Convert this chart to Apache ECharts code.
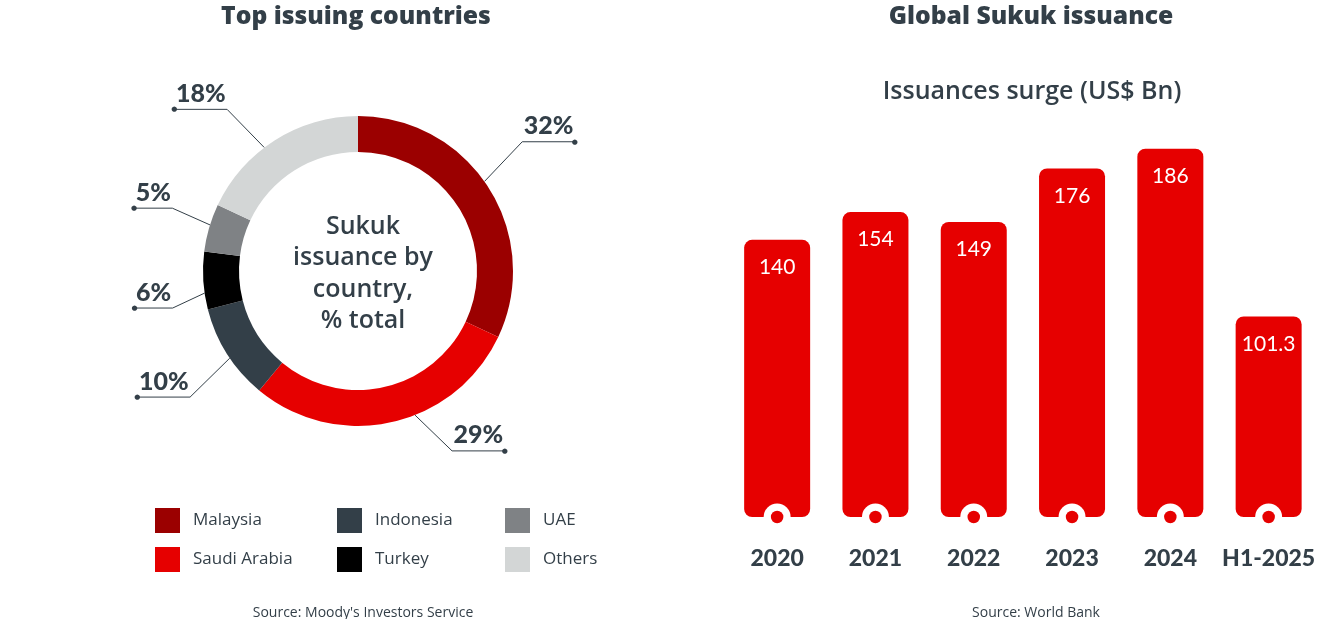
<!DOCTYPE html>
<html>
<head>
<meta charset="utf-8">
<script src="https://cdn.jsdelivr.net/npm/echarts@6/dist/echarts.min.js"></script>
<style>
html,body{margin:0;padding:0;background:#fff;}
#c{width:1318px;height:619px;}
</style>
</head>
<body>
<div id="c"></div>
<script>
// ---- data ----
const countries = ['Malaysia', 'Saudi Arabia', 'Indonesia', 'Turkey', 'UAE', 'Others'];
const shares = [32, 29, 10, 6, 5, 18];
const years = ['2020', '2021', '2022', '2023', '2024', 'H1-2025'];
const issuance = [140, 154, 149, 176, 186, 101.3];

// ---- style ----
const countryColors = ['#9b0000', '#e60000', '#333f48', '#000000', '#7f8285', '#d3d6d6'];
const dark = '#333f48';
const red = '#e60000';
const fontMain = 'Lato, "Open Sans", sans-serif';
const fontBody = '"Open Sans", sans-serif';
const pieCenter = [358, 271];
const pieRadius = [119, 155];
// leader-line layout: start angle on ring (deg clockwise from top), bend [angle, radius]
const leaderStart = [54.7, 158.4, 235.8, 261.8, 287.3, 322.8];
const leaderBend = [[51.8, 209], [152.4, 203], [233.1, 210], [258.7, 189], [288.7, 196], [321, 208]];
const pctFont = '900 25px Lato';

const measureCtx = document.createElement('canvas').getContext('2d');
function textWidth(t) { measureCtx.font = pctFont; return measureCtx.measureText(t).width; }
function polar(angDeg, r) {
  const a = angDeg * Math.PI / 180;
  return [pieCenter[0] + r * Math.sin(a), pieCenter[1] - r * Math.cos(a)];
}
function leader(i) {
  const p0 = polar(leaderStart[i], pieRadius[1]);
  const b = polar(leaderBend[i][0], leaderBend[i][1]);
  const right = b[0] > pieCenter[0];
  const w = textWidth(shares[i] + '%') + 3;
  const end = [b[0] + (right ? w : -w), b[1]];
  return [p0, b, end];
}

const chart = echarts.init(document.getElementById('c'), null, {renderer: 'canvas'});

const legendText = {color: dark, fontSize: 17, fontFamily: fontBody, padding: [0, 0, 0, 8]};
function legendCol(items, left) {
  return {
    orient: 'vertical', left: left, top: 508, padding: 0, itemWidth: 25, itemHeight: 25, itemGap: 14,
    icon: 'rect', data: items, textStyle: legendText, selectedMode: false
  };
}

const pieData = countries.map((n, i) => ({name: n, value: shares[i], itemStyle: {color: countryColors[i]}}));

const option = {
  animation: false,
  backgroundColor: '#fff',
  title: [
    {text: 'Top issuing countries', left: 351, top: -1, textAlign: 'center',
     textStyle: {color: dark, fontSize: 24.7, fontWeight: 800, fontFamily: fontBody}},
    {text: 'Sukuk\nissuance by\ncountry,\n% total', left: 358, top: 206, textAlign: 'center',
     textStyle: {color: dark, fontSize: 25, fontWeight: 600, lineHeight: 31.5, fontFamily: fontBody}},
    {text: 'Source: Moody\'s Investors Service', left: 358, top: 601, textAlign: 'center',
     textStyle: {color: dark, fontSize: 14, fontWeight: 'normal', fontFamily: fontBody}},
    {text: 'Global Sukuk issuance', left: 1026, top: -1, textAlign: 'center',
     textStyle: {color: dark, fontSize: 24.7, fontWeight: 800, fontFamily: fontBody}},
    {text: 'Issuances surge (US$ Bn)', left: 1027, top: 74, textAlign: 'center',
     textStyle: {color: dark, fontSize: 25, fontWeight: 600, fontFamily: fontBody}},
    {text: 'Source: World Bank', left: 1031, top: 601, textAlign: 'center',
     textStyle: {color: dark, fontSize: 14, fontWeight: 'normal', fontFamily: fontBody}}
  ],
  legend: [
    legendCol([countries[0], countries[1]], 155),
    legendCol([countries[2], countries[3]], 337),
    legendCol([countries[4], countries[5]], 505)
  ],
  grid: {left: 728, width: 592, top: 121, bottom: 102},
  xAxis: {
    type: 'category', data: years,
    axisLine: {show: false}, axisTick: {show: false},
    axisLabel: {interval: 0, color: dark, fontSize: 23, fontWeight: 900, fontFamily: fontMain,
                verticalAlign: 'middle', margin: 42}
  },
  yAxis: {type: 'value', min: 0, max: 200, show: false, splitLine: {show: false}},
  series: [
    {
      type: 'pie', center: pieCenter, radius: pieRadius, startAngle: 90, clockwise: true,
      avoidLabelOverlap: false, silent: true, data: pieData,
      label: {show: true, position: 'outside', formatter: '{c}%', color: dark, fontSize: 25,
              fontWeight: 900, fontFamily: 'Lato'},
      labelLine: {show: true, length: 50, length2: 40, smooth: false,
                  lineStyle: {color: dark, width: 1}},
      labelLayout: function (p) {
        const pts = leader(p.dataIndex);
        return {x: (pts[1][0] + pts[2][0]) / 2, y: pts[1][1] - 3, align: 'center', verticalAlign: 'bottom',
                labelLinePoints: pts};
      }
    },
    {
      type: 'pie', center: pieCenter, radius: pieRadius, startAngle: 90, clockwise: true,
      avoidLabelOverlap: false, silent: true, z: 3,
      data: countries.map((n, i) => ({name: n, value: shares[i]})),
      itemStyle: {color: 'rgba(0,0,0,0)'},
      label: {show: true, position: 'outside', formatter: '●', color: dark, fontSize: 7,
              fontFamily: 'DejaVu Sans'},
      labelLine: {show: false},
      labelLayout: function (p) {
        const pts = leader(p.dataIndex);
        return {x: pts[2][0], y: pts[2][1], align: 'center', verticalAlign: 'middle'};
      }
    },
    {
      type: 'bar', data: issuance, barWidth: 66, z: 2, silent: true,
      itemStyle: {color: red, borderRadius: 8},
      label: {show: true, position: 'insideTop', distance: 17, color: '#fff', fontSize: 21,
              fontFamily: fontMain, formatter: '{c}'}
    },
    {
      type: 'scatter', data: years.map(() => 0), symbol: 'circle', symbolSize: 27, z: 3,
      clip: false, silent: true, itemStyle: {color: '#fff', opacity: 1}
    },
    {
      type: 'scatter', data: years.map(() => 0), symbol: 'circle', symbolSize: 12.5, z: 4,
      clip: false, silent: true, itemStyle: {color: red, opacity: 1}
    }
  ]
};
chart.setOption(option);
</script>
</body>
</html>
